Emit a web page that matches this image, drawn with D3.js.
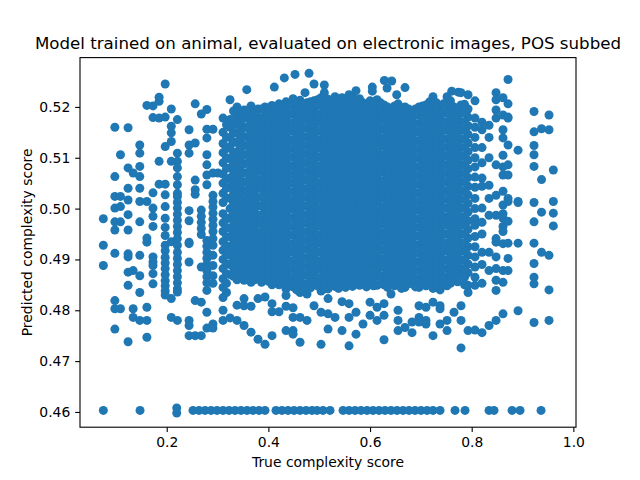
<!DOCTYPE html>
<html>
  <head>
    <meta charset="utf-8">
    <title>Model trained on animal, evaluated on electronic images, POS subbed</title>
    <script src="https://cdn.jsdelivr.net/npm/d3@7"></script>
    <style>
      body { margin: 0; background: #fff; }
      text { font-family: "DejaVu Sans", sans-serif; fill: #000; }
      .tick text { font-size: 13.9px; font-family: "DejaVu Sans", sans-serif; }
      .tick line { stroke: #000; stroke-width: 1.1; }
      .domain { display: none; }
    </style>
  </head>
  <body>
    <div id="chart"></div>
    <script>
      // true score of each column of points, and the predicted scores in it
      var trueScores = [
        0.0753, 0.0980, 0.1090, 0.1240, 0.1340, 0.1470, 0.1610, 0.1730, 0.1850, 0.1970,
        0.2090, 0.2210, 0.2440, 0.2560, 0.2680, 0.2790, 0.2910, 0.3010,
        0.3108, 0.3246, 0.3383, 0.3521, 0.3575, 0.3659, 0.3796, 0.3934, 0.4072, 0.4117,
        0.4209, 0.4314, 0.4347, 0.4485, 0.4524, 0.4623, 0.4721, 0.4760, 0.4800, 0.4898,
        0.5036, 0.5101, 0.5174, 0.5311, 0.5449, 0.5587, 0.5724, 0.5862, 0.6000, 0.6045,
        0.6138, 0.6275, 0.6282, 0.6335, 0.6413, 0.6427, 0.6525, 0.6551, 0.6688, 0.6826,
        0.6964, 0.7101, 0.7239, 0.7377, 0.7515, 0.7607, 0.7652, 0.7737, 0.7790, 0.7928,
        0.8065, 0.8203, 0.8341, 0.8479, 0.8616, 0.8715, 0.8912, 0.9226, 0.9374, 0.9521,
        0.9606,
        // columns lying between the ones above, in the crowded middle
        0.3176, 0.3314, 0.3452, 0.3590, 0.3727, 0.3865, 0.4003, 0.4140, 0.4278, 0.4416,
        0.4554, 0.4691, 0.4829, 0.4967, 0.5104, 0.5242, 0.5380, 0.5518, 0.5655, 0.5793,
        0.5931, 0.6069, 0.6206, 0.6344, 0.6482, 0.6619, 0.6757, 0.6895, 0.7033, 0.7170,
        0.7308, 0.7446, 0.7583, 0.7721, 0.7859
      ];
      var predictedScores = [
        [0.4980, 0.4928, 0.4888],
        [0.5160, 0.5063, 0.5024, 0.5001, 0.4974, 0.4958, 0.4912, 0.4819, 0.4803, 0.4763],
        [0.5106, 0.5024, 0.5004, 0.4974, 0.4803],
        [0.5159, 0.5080, 0.5040, 0.5017, 0.4988, 0.4958, 0.4911, 0.4905, 0.4875, 0.4849, 0.4738],
        [0.5070, 0.4878, 0.4803, 0.4786],
        [0.5125, 0.5109, 0.5083, 0.5063, 0.5040, 0.5014, 0.4974, 0.4908, 0.4868, 0.4835, 0.4780],
        [0.5203, 0.5014, 0.4942, 0.4934, 0.4806, 0.4780, 0.4747],
        [0.5202, 0.5179, 0.5031, 0.5001, 0.4985, 0.4965, 0.4905, 0.4895, 0.4888, 0.4872, 0.4852],
        [0.5219, 0.5211, 0.5178, 0.5093, 0.5048],
        [0.5245, 0.5180, 0.5122, 0.5048, 0.5027, 0.5004, 0.4981, 0.4963, 0.4947, 0.4928, 0.4917,
         0.4904, 0.4893, 0.4882, 0.4870, 0.4858, 0.4848, 0.4838, 0.4830],
        [0.5196, 0.5162, 0.5149, 0.5132, 0.5093, 0.4935, 0.4823, 0.4786],
        [0.5175, 0.5109, 0.5093, 0.5080, 0.5063, 0.5047, 0.5030, 0.5024, 0.5012, 0.5001, 0.4989,
         0.4977, 0.4965, 0.4953, 0.4941, 0.4928, 0.4914, 0.4902, 0.4890, 0.4878, 0.4866, 0.4854,
         0.4842, 0.4836, 0.4780],
        [0.5155, 0.5125, 0.5109, 0.4996, 0.4976, 0.4934, 0.4931, 0.4895, 0.4780, 0.4770, 0.4750],
        [0.5206, 0.5129, 0.5056, 0.5037, 0.5028, 0.4819, 0.4750],
        [0.5186, 0.4997, 0.4985, 0.4973, 0.4961, 0.4949, 0.4885, 0.4816, 0.4750],
        [0.5195, 0.5156, 0.5139, 0.5106, 0.5086, 0.5066, 0.5047, 0.4937, 0.4926, 0.4914, 0.4902,
         0.4890, 0.4878, 0.4866, 0.4854, 0.4839, 0.4796, 0.4765],
        [0.5156, 0.5070, 0.5026, 0.5014, 0.5003, 0.4991, 0.4979, 0.4967, 0.4955, 0.4941, 0.4928,
         0.4908, 0.4888, 0.4868, 0.4853, 0.4773, 0.4765],
        [0.5070],
        [0.5178, 0.5150, 0.5128, 0.5110, 0.5090, 0.5068, 0.5050, 0.5030, 0.5012, 0.4990, 0.4972,
         0.4955, 0.4935, 0.4918, 0.4900, 0.4882, 0.4862, 0.4845, 0.4825, 0.4800, 0.4780],
        [0.5214, 0.5175, 0.5160, 0.5140, 0.5122, 0.5098, 0.5080, 0.5060, 0.5042, 0.5020, 0.5000,
         0.4982, 0.4962, 0.4945, 0.4925, 0.4908, 0.4890, 0.4870, 0.4785],
        [0.5200, 0.5184, 0.5166, 0.5148, 0.5130, 0.5112, 0.5095, 0.5075, 0.5058, 0.5038, 0.5020,
         0.5003, 0.4985, 0.4966, 0.4950, 0.4930, 0.4912, 0.4895, 0.4877, 0.4860, 0.4810, 0.4780],
        [0.5194, 0.5178, 0.5160, 0.5142, 0.5124, 0.5106, 0.5088, 0.5070, 0.5052, 0.5034, 0.5016,
         0.4998, 0.4980, 0.4962, 0.4944, 0.4926, 0.4908, 0.4890, 0.4872, 0.4859, 0.4823, 0.4809,
         0.4770],
        [0.5234],
        [0.5202, 0.5186, 0.5168, 0.5150, 0.5133, 0.5116, 0.5098, 0.5080, 0.5063, 0.5045, 0.5028,
         0.5010, 0.4993, 0.4975, 0.4958, 0.4940, 0.4923, 0.4905, 0.4888, 0.4870, 0.4855, 0.4808,
         0.4757],
        [0.5196, 0.5180, 0.5162, 0.5145, 0.5127, 0.5110, 0.5092, 0.5075, 0.5057, 0.5040, 0.5022,
         0.5005, 0.4987, 0.4970, 0.4952, 0.4935, 0.4917, 0.4900, 0.4882, 0.4865, 0.4823, 0.4743],
        [0.5200, 0.5184, 0.5167, 0.5150, 0.5133, 0.5116, 0.5099, 0.5082, 0.5065, 0.5048, 0.5031,
         0.5014, 0.4997, 0.4980, 0.4963, 0.4946, 0.4929, 0.4912, 0.4895, 0.4878, 0.4860, 0.4826,
         0.4733],
        [0.5203, 0.5188, 0.5172, 0.5155, 0.5138, 0.5121, 0.5104, 0.5087, 0.5070, 0.5053, 0.5036,
         0.5019, 0.5002, 0.4985, 0.4968, 0.4951, 0.4934, 0.4917, 0.4900, 0.4883, 0.4866, 0.4850,
         0.4813, 0.4797, 0.4750],
        [0.5239],
        [0.5206, 0.5190, 0.5173, 0.5156, 0.5139, 0.5122, 0.5105, 0.5088, 0.5071, 0.5054, 0.5037,
         0.5020, 0.5003, 0.4986, 0.4969, 0.4952, 0.4935, 0.4918, 0.4901, 0.4884, 0.4867, 0.4850,
         0.4797],
        [0.5257],
        [0.5210, 0.5194, 0.5177, 0.5160, 0.5143, 0.5126, 0.5109, 0.5092, 0.5075, 0.5058, 0.5041,
         0.5024, 0.5007, 0.4990, 0.4973, 0.4956, 0.4939, 0.4922, 0.4905, 0.4888, 0.4871, 0.4854,
         0.4842, 0.4829, 0.4808, 0.4760],
        [0.5216, 0.5202, 0.5186, 0.5169, 0.5152, 0.5135, 0.5118, 0.5101, 0.5084, 0.5067, 0.5050,
         0.5033, 0.5016, 0.4999, 0.4982, 0.4965, 0.4948, 0.4931, 0.4914, 0.4897, 0.4880, 0.4863,
         0.4846, 0.4805, 0.4786, 0.4760, 0.4753],
        [0.5264],
        [0.5213, 0.5200, 0.5184, 0.5167, 0.5150, 0.5133, 0.5116, 0.5099, 0.5082, 0.5065, 0.5048,
         0.5031, 0.5014, 0.4997, 0.4980, 0.4963, 0.4946, 0.4929, 0.4912, 0.4895, 0.4878, 0.4861,
         0.4845, 0.4835, 0.4786, 0.4737],
        [0.5228],
        [0.5208, 0.5192, 0.5175, 0.5158, 0.5141, 0.5124, 0.5107, 0.5090, 0.5073, 0.5056, 0.5039,
         0.5022, 0.5005, 0.4988, 0.4971, 0.4954, 0.4937, 0.4920, 0.4903, 0.4886, 0.4869, 0.4852,
         0.4832, 0.4780],
        [0.5266],
        [0.5245, 0.5212, 0.5196, 0.5179, 0.5162, 0.5145, 0.5128, 0.5111, 0.5094, 0.5077, 0.5060,
         0.5043, 0.5026, 0.5009, 0.4992, 0.4975, 0.4958, 0.4941, 0.4924, 0.4907, 0.4890, 0.4873,
         0.4856, 0.4809],
        [0.5218, 0.5203, 0.5186, 0.5169, 0.5152, 0.5135, 0.5118, 0.5101, 0.5084, 0.5067, 0.5050,
         0.5033, 0.5016, 0.4999, 0.4982, 0.4965, 0.4948, 0.4931, 0.4914, 0.4897, 0.4880, 0.4863,
         0.4846, 0.4838, 0.4796, 0.4733],
        [0.5243, 0.5228],
        [0.5215, 0.5199, 0.5182, 0.5165, 0.5148, 0.5131, 0.5114, 0.5097, 0.5080, 0.5063, 0.5046,
         0.5029, 0.5012, 0.4995, 0.4978, 0.4961, 0.4944, 0.4927, 0.4910, 0.4893, 0.4876, 0.4859,
         0.4842, 0.4823, 0.4793, 0.4763],
        [0.5220, 0.5204, 0.5187, 0.5170, 0.5153, 0.5136, 0.5119, 0.5102, 0.5085, 0.5068, 0.5051,
         0.5034, 0.5017, 0.5000, 0.4983, 0.4966, 0.4949, 0.4932, 0.4915, 0.4898, 0.4881, 0.4864,
         0.4847, 0.4786],
        [0.5218, 0.5206, 0.5189, 0.5172, 0.5155, 0.5138, 0.5121, 0.5104, 0.5087, 0.5070, 0.5053,
         0.5036, 0.5019, 0.5002, 0.4985, 0.4968, 0.4951, 0.4934, 0.4917, 0.4900, 0.4883, 0.4866,
         0.4850, 0.4817, 0.4760],
        [0.5224, 0.5210, 0.5193, 0.5176, 0.5159, 0.5142, 0.5125, 0.5108, 0.5091, 0.5074, 0.5057,
         0.5040, 0.5023, 0.5006, 0.4989, 0.4972, 0.4955, 0.4938, 0.4921, 0.4904, 0.4887, 0.4870,
         0.4853, 0.4813, 0.4786, 0.4730],
        [0.5232, 0.5214, 0.5198, 0.5181, 0.5164, 0.5147, 0.5130, 0.5113, 0.5096, 0.5079, 0.5062,
         0.5045, 0.5028, 0.5011, 0.4994, 0.4977, 0.4960, 0.4943, 0.4926, 0.4909, 0.4892, 0.4875,
         0.4858, 0.4796, 0.4753],
        [0.5208, 0.5192, 0.5175, 0.5158, 0.5141, 0.5124, 0.5107, 0.5090, 0.5073, 0.5056, 0.5039,
         0.5022, 0.5005, 0.4988, 0.4971, 0.4954, 0.4937, 0.4920, 0.4903, 0.4886, 0.4869, 0.4852,
         0.4773],
        [0.5212, 0.5196, 0.5179, 0.5162, 0.5145, 0.5128, 0.5111, 0.5094, 0.5077, 0.5060, 0.5043,
         0.5026, 0.5009, 0.4992, 0.4975, 0.4958, 0.4941, 0.4924, 0.4907, 0.4890, 0.4873, 0.4856,
         0.4816, 0.4790],
        [0.5239, 0.5231],
        [0.5214, 0.5200, 0.5183, 0.5166, 0.5149, 0.5132, 0.5115, 0.5098, 0.5081, 0.5064, 0.5047,
         0.5030, 0.5013, 0.4996, 0.4979, 0.4962, 0.4945, 0.4928, 0.4911, 0.4894, 0.4877, 0.4868,
         0.4849, 0.4806, 0.4780],
        [0.5204, 0.5190, 0.5173, 0.5156, 0.5139, 0.5122, 0.5105, 0.5088, 0.5071, 0.5054, 0.5037,
         0.5020, 0.5003, 0.4986, 0.4969, 0.4952, 0.4935, 0.4918, 0.4901, 0.4884, 0.4867, 0.4850,
         0.4813, 0.4790, 0.4742],
        [0.5252],
        [0.5237],
        [0.5196, 0.5180, 0.5163, 0.5146, 0.5129, 0.5112, 0.5095, 0.5078, 0.5061, 0.5044, 0.5027,
         0.5010, 0.4993, 0.4976, 0.4959, 0.4942, 0.4925, 0.4908, 0.4891, 0.4874, 0.4857, 0.4832],
        [0.5251],
        [0.5224],
        [0.5206, 0.5190, 0.5173, 0.5156, 0.5139, 0.5122, 0.5105, 0.5088, 0.5071, 0.5054, 0.5037,
         0.5020, 0.5003, 0.4986, 0.4969, 0.4952, 0.4935, 0.4918, 0.4901, 0.4884, 0.4867, 0.4850,
         0.4800, 0.4780, 0.4760],
        [0.5238, 0.5200, 0.5184, 0.5167, 0.5150, 0.5133, 0.5116, 0.5099, 0.5082, 0.5065, 0.5048,
         0.5031, 0.5014, 0.4997, 0.4980, 0.4963, 0.4946, 0.4929, 0.4912, 0.4895, 0.4878, 0.4861,
         0.4845, 0.4766],
        [0.5192, 0.5176, 0.5159, 0.5142, 0.5125, 0.5108, 0.5091, 0.5074, 0.5057, 0.5040, 0.5023,
         0.5006, 0.4989, 0.4972, 0.4955, 0.4938, 0.4921, 0.4904, 0.4887, 0.4870, 0.4853, 0.4777,
         0.4756],
        [0.5200, 0.5184, 0.5167, 0.5150, 0.5133, 0.5116, 0.5099, 0.5082, 0.5065, 0.5048, 0.5031,
         0.5014, 0.4997, 0.4980, 0.4963, 0.4946, 0.4929, 0.4912, 0.4895, 0.4878, 0.4861, 0.4845,
         0.4809, 0.4786, 0.4777],
        [0.5204, 0.5188, 0.5171, 0.5154, 0.5137, 0.5120, 0.5103, 0.5086, 0.5069, 0.5052, 0.5035,
         0.5018, 0.5001, 0.4984, 0.4967, 0.4950, 0.4933, 0.4916, 0.4899, 0.4882, 0.4865, 0.4848,
         0.4806, 0.4780, 0.4773],
        [0.5220, 0.5200, 0.5183, 0.5166, 0.5149, 0.5132, 0.5115, 0.5098, 0.5081, 0.5064, 0.5047,
         0.5030, 0.5013, 0.4996, 0.4979, 0.4962, 0.4945, 0.4928, 0.4911, 0.4894, 0.4877, 0.4860,
         0.4843, 0.4816, 0.4750],
        [0.5196, 0.5180, 0.5163, 0.5146, 0.5129, 0.5112, 0.5095, 0.5078, 0.5061, 0.5044, 0.5027,
         0.5010, 0.4993, 0.4976, 0.4959, 0.4942, 0.4925, 0.4908, 0.4891, 0.4874, 0.4857, 0.4840,
         0.4809, 0.4803, 0.4773],
        [0.5220, 0.5204, 0.5188, 0.5171, 0.5154, 0.5137, 0.5120, 0.5103, 0.5086, 0.5069, 0.5052,
         0.5035, 0.5018, 0.5001, 0.4984, 0.4967, 0.4950, 0.4933, 0.4916, 0.4899, 0.4882, 0.4865,
         0.4848, 0.4780, 0.4760],
        [0.5231],
        [0.5200, 0.5184, 0.5167, 0.5150, 0.5133, 0.5116, 0.5099, 0.5082, 0.5065, 0.5048, 0.5031,
         0.5014, 0.4997, 0.4980, 0.4963, 0.4946, 0.4929, 0.4912, 0.4895, 0.4878, 0.4861, 0.4796],
        [0.5229],
        [0.5228, 0.5204, 0.5188, 0.5171, 0.5154, 0.5137, 0.5120, 0.5103, 0.5086, 0.5069, 0.5052,
         0.5035, 0.5018, 0.5001, 0.4984, 0.4967, 0.4950, 0.4933, 0.4916, 0.4899, 0.4882, 0.4872,
         0.4809, 0.4780, 0.4726],
        [0.5224, 0.5196, 0.5180, 0.5163, 0.5146, 0.5129, 0.5112, 0.5095, 0.5078, 0.5061, 0.5044,
         0.5027, 0.5010, 0.4993, 0.4976, 0.4959, 0.4942, 0.4925, 0.4908, 0.4891, 0.4874, 0.4849,
         0.4835, 0.4760],
        [0.5212, 0.5178, 0.5160, 0.5140, 0.5120, 0.5100, 0.5082, 0.5062, 0.5042, 0.5020, 0.5000,
         0.4980, 0.4967, 0.4945, 0.4925, 0.4905, 0.4885, 0.4865, 0.4849, 0.4761],
        [0.5170, 0.5155, 0.5120, 0.5090, 0.5060, 0.5044, 0.5001, 0.4973, 0.4950, 0.4914, 0.4890,
         0.4853, 0.4756],
        [0.5164, 0.5140, 0.5100, 0.5046, 0.5020, 0.4987, 0.4914, 0.4878, 0.4770],
        [0.5228, 0.5214, 0.5194, 0.5178, 0.5086, 0.5026, 0.4987, 0.4941, 0.4934, 0.4905, 0.4882,
         0.4859, 0.4839, 0.4780],
        [0.5218, 0.5184, 0.5155, 0.5139, 0.5105, 0.5082, 0.5066, 0.5034, 0.5007, 0.4990, 0.4981,
         0.4965, 0.4955, 0.4931, 0.4878, 0.4855, 0.4793],
        [0.5254, 0.5206, 0.5180, 0.5178, 0.5125, 0.5086, 0.5066, 0.5020, 0.5014, 0.4975, 0.4932,
         0.4902, 0.4878],
        [0.5115, 0.5014, 0.5012, 0.4932, 0.4799],
        [0.5191, 0.5151, 0.5124, 0.5106, 0.5083, 0.5012, 0.4974, 0.4932, 0.4892, 0.4865, 0.4852,
         0.4776],
        [0.5157, 0.5057, 0.4993, 0.4914],
        [0.5184, 0.5155, 0.4908, 0.4840, 0.4780],
        [0.5076, 0.5014, 0.4991, 0.4966],
        // in-between columns
        [0.5165, 0.5140, 0.5118, 0.5100, 0.5079, 0.5058, 0.5040, 0.5021, 0.4980, 0.4963, 0.4944,
         0.4927, 0.4909, 0.4891, 0.4872, 0.4853, 0.4835],
        [0.5192, 0.5175, 0.5150, 0.5131, 0.5110, 0.5090, 0.5067, 0.5048, 0.5029, 0.5011, 0.4991,
         0.4975, 0.4956, 0.4938, 0.4920, 0.4901, 0.4884, 0.4867],
        [0.5190, 0.5172, 0.5155, 0.5137, 0.5119, 0.5101, 0.5083, 0.5066, 0.5047, 0.5029, 0.5011,
         0.4993, 0.4975, 0.4957, 0.4939, 0.4921, 0.4903, 0.4885, 0.4866],
        [0.5194, 0.5177, 0.5159, 0.5141, 0.5124, 0.5107, 0.5089, 0.5071, 0.5054, 0.5036, 0.5019,
         0.5001, 0.4984, 0.4966, 0.4949, 0.4931, 0.4914, 0.4896, 0.4879, 0.4862],
        [0.5192, 0.5175, 0.5157, 0.5140, 0.5122, 0.5105, 0.5087, 0.5070, 0.5052, 0.5035, 0.5017,
         0.5000, 0.4982, 0.4965, 0.4947, 0.4930, 0.4912, 0.4895, 0.4877, 0.4860],
        [0.5196, 0.5175, 0.5158, 0.5141, 0.5124, 0.5107, 0.5090, 0.5073, 0.5056, 0.5039, 0.5022,
         0.5005, 0.4988, 0.4971, 0.4954, 0.4937, 0.4920, 0.4903, 0.4886, 0.4869, 0.4855],
        [0.5198, 0.5179, 0.5162, 0.5145, 0.5128, 0.5111, 0.5094, 0.5077, 0.5060, 0.5043, 0.5026,
         0.5009, 0.4992, 0.4975, 0.4958, 0.4941, 0.4924, 0.4907, 0.4890, 0.4873, 0.4857],
        [0.5200, 0.5181, 0.5164, 0.5147, 0.5130, 0.5113, 0.5096, 0.5079, 0.5062, 0.5045, 0.5028,
         0.5011, 0.4994, 0.4977, 0.4960, 0.4943, 0.4926, 0.4909, 0.4892, 0.4875, 0.4858],
        [0.5202, 0.5182, 0.5165, 0.5148, 0.5131, 0.5114, 0.5097, 0.5080, 0.5063, 0.5046, 0.5029,
         0.5012, 0.4995, 0.4978, 0.4961, 0.4944, 0.4927, 0.4910, 0.4893, 0.4876, 0.4858],
        [0.5204, 0.5186, 0.5169, 0.5152, 0.5135, 0.5118, 0.5101, 0.5084, 0.5067, 0.5050, 0.5033,
         0.5016, 0.4999, 0.4982, 0.4965, 0.4948, 0.4931, 0.4914, 0.4897, 0.4880, 0.4863, 0.4848],
        [0.5208, 0.5193, 0.5176, 0.5159, 0.5142, 0.5125, 0.5108, 0.5091, 0.5074, 0.5057, 0.5040,
         0.5023, 0.5006, 0.4989, 0.4972, 0.4955, 0.4938, 0.4921, 0.4904, 0.4887, 0.4870, 0.4853,
         0.4840],
        [0.5206, 0.5191, 0.5175, 0.5158, 0.5141, 0.5124, 0.5107, 0.5090, 0.5073, 0.5056, 0.5039,
         0.5022, 0.5005, 0.4988, 0.4971, 0.4954, 0.4937, 0.4920, 0.4903, 0.4886, 0.4869, 0.4852,
         0.4838],
        [0.5210, 0.5200, 0.5183, 0.5166, 0.5149, 0.5132, 0.5115, 0.5098, 0.5081, 0.5064, 0.5047,
         0.5030, 0.5013, 0.4996, 0.4979, 0.4962, 0.4945, 0.4928, 0.4911, 0.4894, 0.4877, 0.4860,
         0.4844],
        [0.5214, 0.5204, 0.5187, 0.5170, 0.5153, 0.5136, 0.5119, 0.5102, 0.5085, 0.5068, 0.5051,
         0.5034, 0.5017, 0.5000, 0.4983, 0.4966, 0.4949, 0.4932, 0.4915, 0.4898, 0.4881, 0.4864,
         0.4848],
        [0.5210, 0.5194, 0.5177, 0.5160, 0.5143, 0.5126, 0.5109, 0.5092, 0.5075, 0.5058, 0.5041,
         0.5024, 0.5007, 0.4990, 0.4973, 0.4956, 0.4939, 0.4922, 0.4905, 0.4888, 0.4871, 0.4854,
         0.4842],
        [0.5212, 0.5207, 0.5190, 0.5173, 0.5156, 0.5139, 0.5122, 0.5105, 0.5088, 0.5071, 0.5054,
         0.5037, 0.5020, 0.5003, 0.4986, 0.4969, 0.4952, 0.4935, 0.4918, 0.4901, 0.4884, 0.4867,
         0.4850],
        [0.5213, 0.5196, 0.5179, 0.5162, 0.5145, 0.5128, 0.5111, 0.5094, 0.5077, 0.5060, 0.5043,
         0.5026, 0.5009, 0.4992, 0.4975, 0.4958, 0.4941, 0.4924, 0.4907, 0.4890, 0.4873, 0.4856,
         0.4843],
        [0.5216, 0.5198, 0.5181, 0.5164, 0.5147, 0.5130, 0.5113, 0.5096, 0.5079, 0.5062, 0.5045,
         0.5028, 0.5011, 0.4994, 0.4977, 0.4960, 0.4943, 0.4926, 0.4909, 0.4892, 0.4875, 0.4858,
         0.4845],
        [0.5218, 0.5202, 0.5185, 0.5168, 0.5151, 0.5134, 0.5117, 0.5100, 0.5083, 0.5066, 0.5049,
         0.5032, 0.5015, 0.4998, 0.4981, 0.4964, 0.4947, 0.4930, 0.4913, 0.4896, 0.4879, 0.4862,
         0.4847],
        [0.5216, 0.5206, 0.5189, 0.5172, 0.5155, 0.5138, 0.5121, 0.5104, 0.5087, 0.5070, 0.5053,
         0.5036, 0.5019, 0.5002, 0.4985, 0.4968, 0.4951, 0.4934, 0.4917, 0.4900, 0.4883, 0.4866,
         0.4849],
        [0.5204, 0.5187, 0.5170, 0.5153, 0.5136, 0.5119, 0.5102, 0.5085, 0.5068, 0.5051, 0.5034,
         0.5017, 0.5000, 0.4983, 0.4966, 0.4949, 0.4932, 0.4915, 0.4898, 0.4881, 0.4864, 0.4846],
        [0.5210, 0.5203, 0.5187, 0.5170, 0.5153, 0.5136, 0.5119, 0.5102, 0.5085, 0.5068, 0.5051,
         0.5034, 0.5017, 0.5000, 0.4983, 0.4966, 0.4949, 0.4932, 0.4915, 0.4898, 0.4881, 0.4864,
         0.4848],
        [0.5208, 0.5191, 0.5174, 0.5157, 0.5140, 0.5123, 0.5106, 0.5089, 0.5072, 0.5055, 0.5038,
         0.5021, 0.5004, 0.4987, 0.4970, 0.4953, 0.4936, 0.4919, 0.4902, 0.4885, 0.4868, 0.4853],
        [0.5200, 0.5182, 0.5165, 0.5148, 0.5131, 0.5114, 0.5097, 0.5080, 0.5063, 0.5046, 0.5029,
         0.5012, 0.4995, 0.4978, 0.4961, 0.4944, 0.4927, 0.4910, 0.4893, 0.4876, 0.4859, 0.4845],
        [0.5202, 0.5188, 0.5171, 0.5154, 0.5137, 0.5120, 0.5103, 0.5086, 0.5069, 0.5052, 0.5035,
         0.5018, 0.5001, 0.4984, 0.4967, 0.4950, 0.4933, 0.4916, 0.4899, 0.4882, 0.4865, 0.4848],
        [0.5198, 0.5181, 0.5164, 0.5147, 0.5130, 0.5113, 0.5096, 0.5079, 0.5062, 0.5045, 0.5028,
         0.5011, 0.4994, 0.4977, 0.4960, 0.4943, 0.4926, 0.4909, 0.4892, 0.4875, 0.4858, 0.4843],
        [0.5196, 0.5190, 0.5174, 0.5157, 0.5140, 0.5123, 0.5106, 0.5089, 0.5072, 0.5055, 0.5038,
         0.5021, 0.5004, 0.4987, 0.4970, 0.4953, 0.4936, 0.4919, 0.4902, 0.4885, 0.4868, 0.4852],
        [0.5196, 0.5184, 0.5167, 0.5150, 0.5133, 0.5116, 0.5099, 0.5082, 0.5065, 0.5048, 0.5031,
         0.5014, 0.4997, 0.4980, 0.4963, 0.4946, 0.4929, 0.4912, 0.4895, 0.4878, 0.4861, 0.4846],
        [0.5202, 0.5192, 0.5175, 0.5158, 0.5141, 0.5124, 0.5107, 0.5090, 0.5073, 0.5056, 0.5039,
         0.5022, 0.5005, 0.4988, 0.4971, 0.4954, 0.4937, 0.4920, 0.4903, 0.4886, 0.4869, 0.4853],
        [0.5210, 0.5196, 0.5179, 0.5162, 0.5145, 0.5128, 0.5111, 0.5094, 0.5077, 0.5060, 0.5043,
         0.5026, 0.5009, 0.4992, 0.4975, 0.4958, 0.4941, 0.4924, 0.4907, 0.4890, 0.4873, 0.4856],
        [0.5208, 0.5190, 0.5173, 0.5156, 0.5139, 0.5122, 0.5105, 0.5088, 0.5071, 0.5054, 0.5037,
         0.5020, 0.5003, 0.4986, 0.4969, 0.4952, 0.4935, 0.4918, 0.4901, 0.4884, 0.4867, 0.4850],
        [0.5206, 0.5188, 0.5171, 0.5154, 0.5137, 0.5120, 0.5103, 0.5086, 0.5069, 0.5052, 0.5035,
         0.5018, 0.5001, 0.4984, 0.4967, 0.4950, 0.4933, 0.4916, 0.4899, 0.4882, 0.4865, 0.4849],
        [0.5212, 0.5192, 0.5175, 0.5158, 0.5141, 0.5124, 0.5107, 0.5090, 0.5073, 0.5056, 0.5039,
         0.5022, 0.5005, 0.4988, 0.4971, 0.4954, 0.4937, 0.4920, 0.4903, 0.4886, 0.4869, 0.4853],
        [0.5196, 0.5176, 0.5159, 0.5142, 0.5125, 0.5108, 0.5091, 0.5074, 0.5057, 0.5040, 0.5023,
         0.5006, 0.4989, 0.4972, 0.4955, 0.4938, 0.4921, 0.4904, 0.4887, 0.4870, 0.4856],
        [0.5205, 0.5188, 0.5171, 0.5154, 0.5137, 0.5120, 0.5103, 0.5086, 0.5069, 0.5052, 0.5035,
         0.5018, 0.5001, 0.4984, 0.4967, 0.4950, 0.4933, 0.4916, 0.4899, 0.4882, 0.4865, 0.4850]
      ];

      // the row of points sitting at the bottom of the plot
      var floorTrue = [
        0.0753, 0.1475, 0.2197, 0.2197, 0.2517, 0.2635, 0.2754, 0.2872, 0.2990, 0.3108,
        0.3226, 0.3344, 0.3462, 0.3580, 0.3698, 0.3816, 0.3934, 0.4150, 0.4268, 0.4386,
        0.4504, 0.4623, 0.4741, 0.4859, 0.4957, 0.5075, 0.5213, 0.5469, 0.5587, 0.5705,
        0.5823, 0.5941, 0.6059, 0.6177, 0.6295, 0.6413, 0.6531, 0.6649, 0.6767, 0.6885,
        0.7003, 0.7121, 0.7239, 0.7377, 0.7672, 0.7869, 0.8341, 0.8439, 0.8794, 0.8951,
        0.9364
      ];
      var floorPred = [
        0.4603, 0.4603, 0.4608, 0.4598, 0.4603, 0.4603, 0.4603, 0.4603, 0.4603, 0.4603,
        0.4603, 0.4603, 0.4603, 0.4603, 0.4603, 0.4603, 0.4603, 0.4603, 0.4603, 0.4603,
        0.4603, 0.4603, 0.4603, 0.4603, 0.4603, 0.4603, 0.4603, 0.4603, 0.4603, 0.4603,
        0.4603, 0.4603, 0.4603, 0.4603, 0.4603, 0.4603, 0.4603, 0.4603, 0.4603, 0.4603,
        0.4603, 0.4603, 0.4603, 0.4603, 0.4603, 0.4603, 0.4603, 0.4603, 0.4603, 0.4603,
        0.4603
      ];

      var xTicks = [0.2, 0.4, 0.6, 0.8, 1.0];
      var yTicks = [0.46, 0.47, 0.48, 0.49, 0.50, 0.51, 0.52];

      var width = 640,
        height = 480;
      var plotLeft = 80, plotRight = 576, plotTop = 57.6, plotBottom = 427.2;

      var x = d3.scaleLinear().domain([0.0294, 1.0052]).range([plotLeft, plotRight]);
      var y = d3.scaleLinear().domain([0.4570, 0.5297]).range([plotBottom, plotTop]);

      var points = [];
      trueScores.forEach(function (t, i) {
        predictedScores[i].forEach(function (p) { points.push([t, p]); });
      });
      floorTrue.forEach(function (t, i) { points.push([t, floorPred[i]]); });

      var svg = d3.select("#chart").append("svg")
        .attr("width", width)
        .attr("height", height);

      svg.append("g")
        .selectAll("circle")
        .data(points)
        .enter()
        .append("circle")
        .attr("cx", function (d) { return x(d[0]); })
        .attr("cy", function (d) { return y(d[1]); })
        .attr("r", 4.5)
        .attr("fill", "#1f77b4");

      // axes
      svg.append("g")
        .attr("transform", "translate(0," + plotBottom + ")")
        .call(d3.axisBottom(x).tickValues(xTicks).tickFormat(d3.format(".1f"))
          .tickSize(4.86).tickPadding(4.86));

      svg.append("g")
        .attr("transform", "translate(" + plotLeft + ",0)")
        .call(d3.axisLeft(y).tickValues(yTicks).tickFormat(d3.format(".2f"))
          .tickSize(4.86).tickPadding(4.86));

      svg.append("rect")
        .attr("x", plotLeft)
        .attr("y", plotTop)
        .attr("width", plotRight - plotLeft)
        .attr("height", plotBottom - plotTop)
        .attr("fill", "none")
        .attr("stroke", "#000")
        .attr("stroke-width", 1.1);

      // labels
      svg.append("text")
        .attr("x", (plotLeft + plotRight) / 2)
        .attr("y", 49.3)
        .attr("text-anchor", "middle")
        .style("font-size", "16.67px")
        .text("Model trained on animal, evaluated on electronic images, POS subbed");

      svg.append("text")
        .attr("x", (plotLeft + plotRight) / 2)
        .attr("y", 467)
        .attr("text-anchor", "middle")
        .style("font-size", "13.9px")
        .text("True complexity score");

      svg.append("text")
        .attr("transform", "translate(31.5," + (plotTop + plotBottom) / 2 + ") rotate(-90)")
        .attr("text-anchor", "middle")
        .style("font-size", "13.9px")
        .text("Predicted complexity score");
    </script>
  </body>
</html>
